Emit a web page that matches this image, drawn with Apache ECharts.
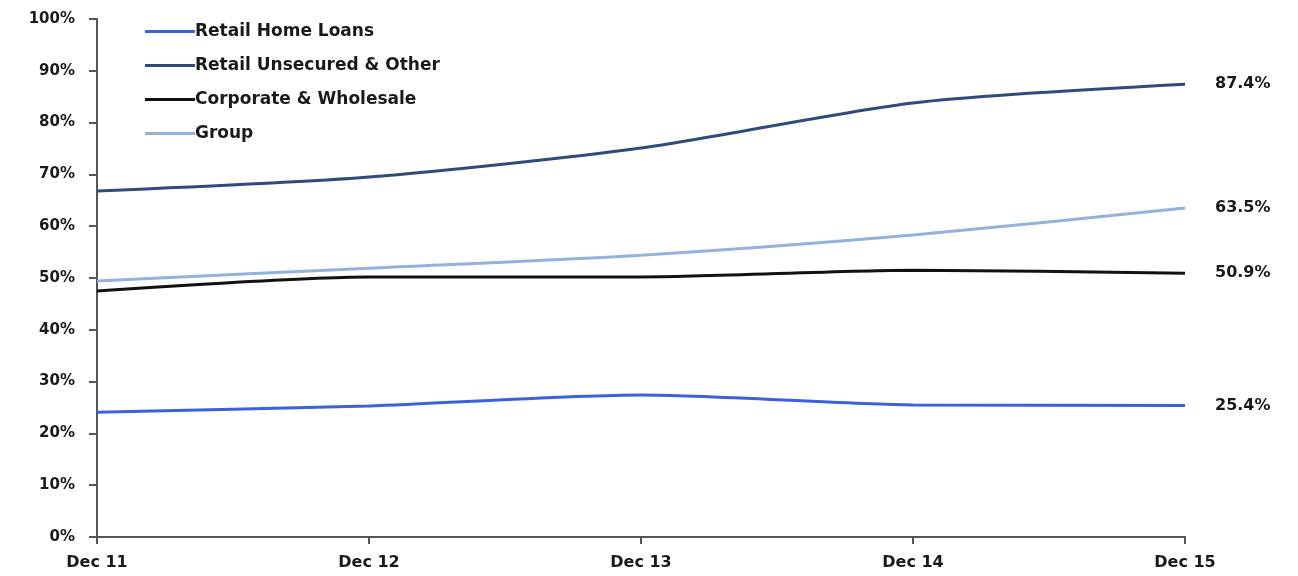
<!DOCTYPE html>
<html>
<head>
<meta charset="utf-8">
<script src="https://cdn.jsdelivr.net/npm/echarts@6/dist/echarts.min.js"></script>
<style>
  html, body { margin: 0; padding: 0; background: #fff; }
  #chart { width: 1298px; height: 576px; }
</style>
</head>
<body>
<div id="chart"></div>
<script>
// categories and values (percent)
const years = ['Dec 11', 'Dec 12', 'Dec 13', 'Dec 14', 'Dec 15'];
const homeLoans = [24.1, 25.3, 27.4, 25.5, 25.4];
const unsecured = [66.8, 69.5, 75.1, 83.8, 87.4];
const corporate = [47.5, 50.2, 50.2, 51.5, 50.9];
const group = [49.4, 51.9, 54.4, 58.3, 63.5];

const fontFamily = '"DejaVu Sans", Verdana, sans-serif';

const chart = echarts.init(document.getElementById('chart'));

// one line series, label only on the last point
const mkSeries = (name, data, color) => ({
  name: name,
  type: 'line',
  data: data,
  smooth: 0.25,
  symbol: 'none',
  lineStyle: { color: color, width: 3 },
  itemStyle: { color: color },
  endLabel: {
    show: true,
    distance: 30,
    color: '#1a1a1a',
    fontFamily: fontFamily,
    fontWeight: 'bold',
    fontSize: 16,
    formatter: (p) => p.value.toFixed(1) + '%',
  },
  emphasis: { disabled: true },
});

const option = {
  animation: false,
  backgroundColor: '#ffffff',
  grid: {
    left: 97,
    right: 113,
    top: 19,
    bottom: 39,
    containLabel: false,
  },
  legend: {
    orient: 'vertical',
    left: 140,
    top: 18,
    icon: 'rect',
    itemWidth: 50,
    itemHeight: 3,
    itemGap: 17,
    textStyle: {
      color: '#1a1a1a',
      fontFamily: fontFamily,
      fontWeight: 'bold',
      fontSize: 17,
      padding: [0, 0, 0, -5],
    },
    data: ['Retail Home Loans', 'Retail Unsecured & Other', 'Corporate & Wholesale', 'Group'],
  },
  xAxis: {
    type: 'category',
    boundaryGap: false,
    data: years,
    axisLine: { lineStyle: { color: '#555', width: 2 } },
    axisTick: { show: true, alignWithLabel: true, length: 7, lineStyle: { color: '#555', width: 2 } },
    axisLabel: {
      color: '#1a1a1a',
      fontFamily: fontFamily,
      fontWeight: 'bold',
      fontSize: 16,
      margin: 18,
    },
    splitLine: { show: false },
  },
  yAxis: {
    type: 'value',
    min: 0,
    max: 100,
    interval: 10,
    axisLine: { show: true, lineStyle: { color: '#555', width: 2 } },
    axisTick: { show: true, length: 8, lineStyle: { color: '#555', width: 2 } },
    axisLabel: {
      color: '#1a1a1a',
      fontFamily: fontFamily,
      fontWeight: 'bold',
      fontSize: 15,
      margin: 22,
      formatter: '{value}%',
    },
    splitLine: { show: false },
  },
  series: [
    mkSeries('Retail Home Loans', homeLoans, '#3d60dc'),
    mkSeries('Retail Unsecured & Other', unsecured, '#2f4b7c'),
    mkSeries('Corporate & Wholesale', corporate, '#111111'),
    mkSeries('Group', group, '#92b2dc'),
  ],
};

chart.setOption(option);
</script>
</body>
</html>
